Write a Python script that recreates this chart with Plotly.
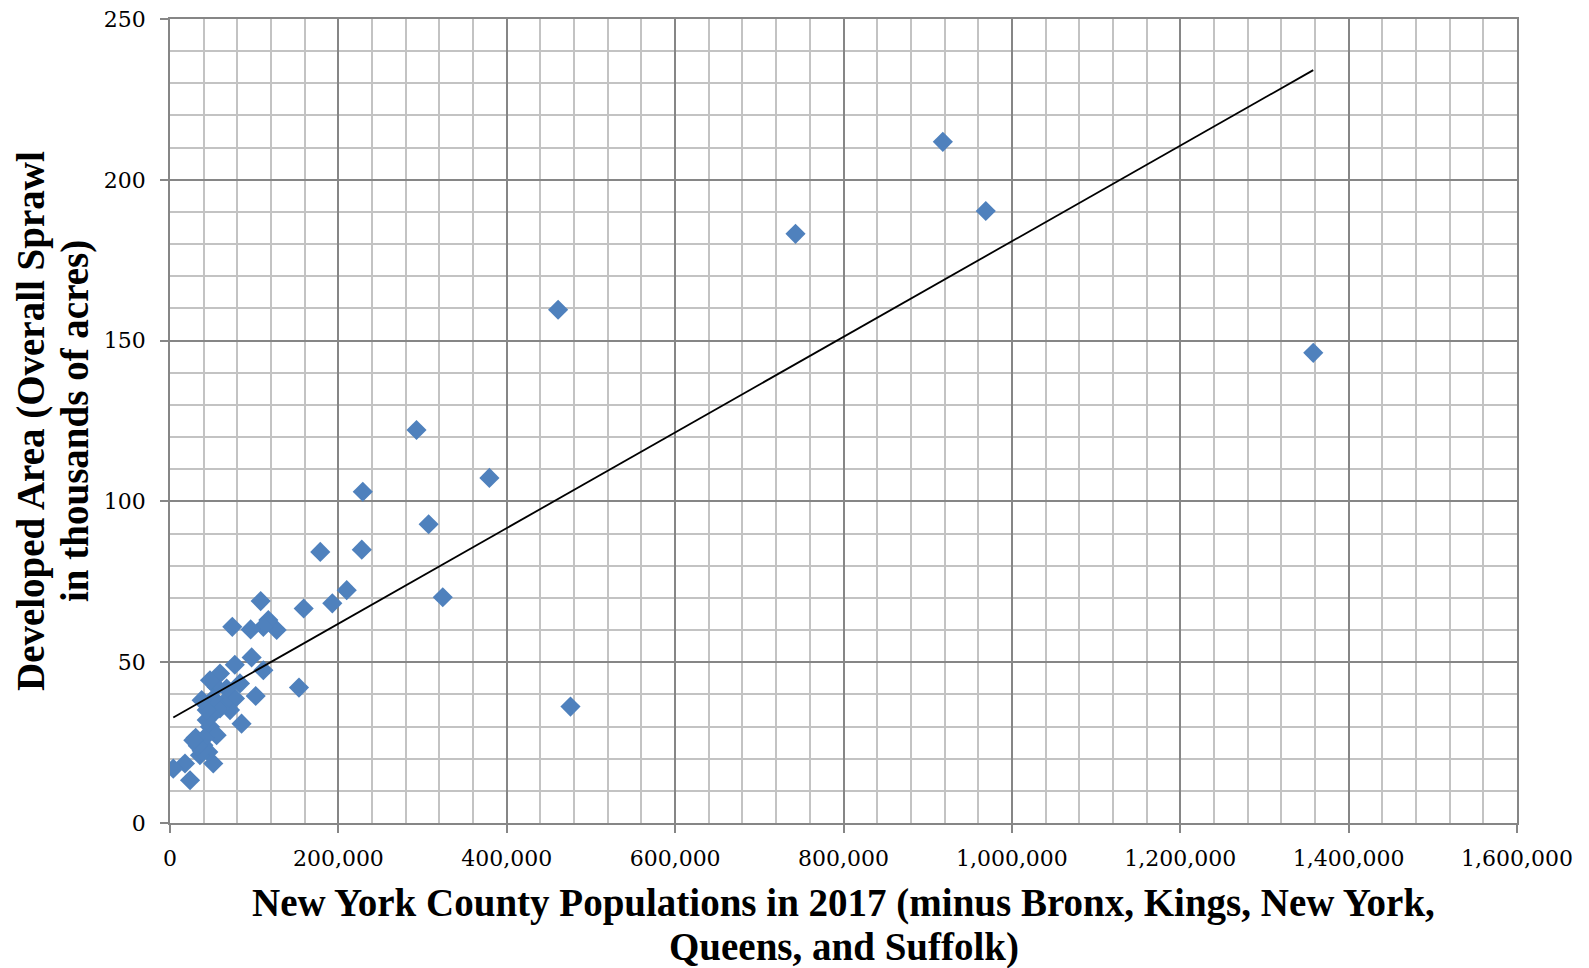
import numpy as np
import plotly.graph_objects as go

# County populations (2017) and developed area (thousands of acres)
population = [1358000, 969000, 918000, 743000, 475700, 461000, 379400, 324000, 307200, 292800,
              229000, 227800, 209900, 192800, 178500, 158800, 153200, 126700, 116800, 110900,
              107700, 110900, 101800, 97000, 95800, 83100, 85000, 77000, 74000, 77200,
              71300, 67300, 63300, 59400, 55400, 59400, 55400, 51400, 47500, 49500,
              51400, 47500, 43600, 43600, 55400, 45500, 39600, 37600, 35600, 41000,
              37600, 33000, 30500, 27700, 23800, 17800, 3900]
developed_area = [146.2, 190.3, 211.8, 183.2, 36.2, 159.6, 107.3, 70.2, 92.9, 122.2,
                  103.0, 85.0, 72.4, 68.3, 84.3, 66.7, 42.1, 60.0, 63.1, 61.0,
                  69.0, 47.5, 39.5, 51.5, 60.2, 43.4, 30.9, 49.2, 61.0, 38.7,
                  35.1, 41.8, 37.2, 46.5, 42.3, 35.6, 35.6, 38.7, 44.4, 33.5,
                  18.5, 29.9, 32.0, 35.1, 27.3, 22.1, 24.2, 38.2, 21.1, 26.5,
                  22.5, 24.0, 26.5, 25.7, 13.3, 18.5, 16.9]

x_title_lines = ["New York County Populations in 2017 (minus Bronx, Kings, New York,",
                 "Queens, and Suffolk)"]
y_title_lines = ["Developed Area (Overall Sprawl",
                 "in thousands of acres)"]

# Linear trendline (least squares) over the data range
slope, intercept = np.polyfit(population, developed_area, 1)
trend_x = [min(population), max(population)]
trend_y = [intercept + slope * v for v in trend_x]

fig = go.Figure()
fig.add_trace(go.Scatter(
    x=population, y=developed_area, mode="markers",
    marker=dict(symbol="diamond", size=15.5, color="#4F81BD", line=dict(width=0)),
    showlegend=False, hoverinfo="x+y"))
fig.add_trace(go.Scatter(
    x=trend_x, y=trend_y, mode="lines",
    line=dict(color="black", width=1.8), showlegend=False, hoverinfo="skip"))

major_grid = "#868686"
minor_grid = "#C3C3C3"
tick_font = dict(family="DejaVu Serif, Liberation Serif, serif", size=22, color="black")
title_font = dict(family="Liberation Serif, DejaVu Serif, serif", size=39, color="black")

fig.update_layout(
    width=1589, height=968,
    margin=dict(l=162, r=80, t=11, b=153),
    paper_bgcolor="white", plot_bgcolor="white",
    xaxis=dict(
        range=[0, 1600000], dtick=200000, tick0=0, tickformat=",d",
        showgrid=True, gridcolor=major_grid, gridwidth=1.6,
        minor=dict(dtick=40000, showgrid=True, gridcolor=minor_grid, gridwidth=1.6),
        zeroline=False, showline=True, linecolor=major_grid, linewidth=1.8, mirror=True,
        ticks="outside", ticklen=8, tickwidth=1.6, tickcolor=major_grid,
        tickfont=tick_font, ticklabelstandoff=7, automargin=False,
        ticklabeloverflow="allow",
    ),
    yaxis=dict(
        range=[0, 250], dtick=50, tick0=0,
        showgrid=True, gridcolor=major_grid, gridwidth=1.6,
        minor=dict(dtick=10, showgrid=True, gridcolor=minor_grid, gridwidth=1.6),
        zeroline=False, showline=True, linecolor=major_grid, linewidth=1.8, mirror=True,
        ticks="outside", ticklen=8, tickwidth=1.6, tickcolor=major_grid,
        tickfont=tick_font, ticklabelstandoff=10, automargin=False,
        ticklabeloverflow="allow",
    ),
)

# Axis titles (two lines each), placed relative to the plot area
for text, shift in zip(x_title_lines, [-80, -124]):
    fig.add_annotation(text="<b>" + text + "</b>", xref="paper", yref="paper",
                       x=0.5, y=0, xanchor="center", yanchor="middle", yshift=shift,
                       showarrow=False, font=title_font)
for text, shift in zip(y_title_lines, [-139, -95]):
    fig.add_annotation(text="<b>" + text + "</b>", xref="paper", yref="paper",
                       x=0, y=0.5, xanchor="center", yanchor="middle", xshift=shift,
                       textangle=-90, showarrow=False, font=title_font)

fig.write_html("out.html")
